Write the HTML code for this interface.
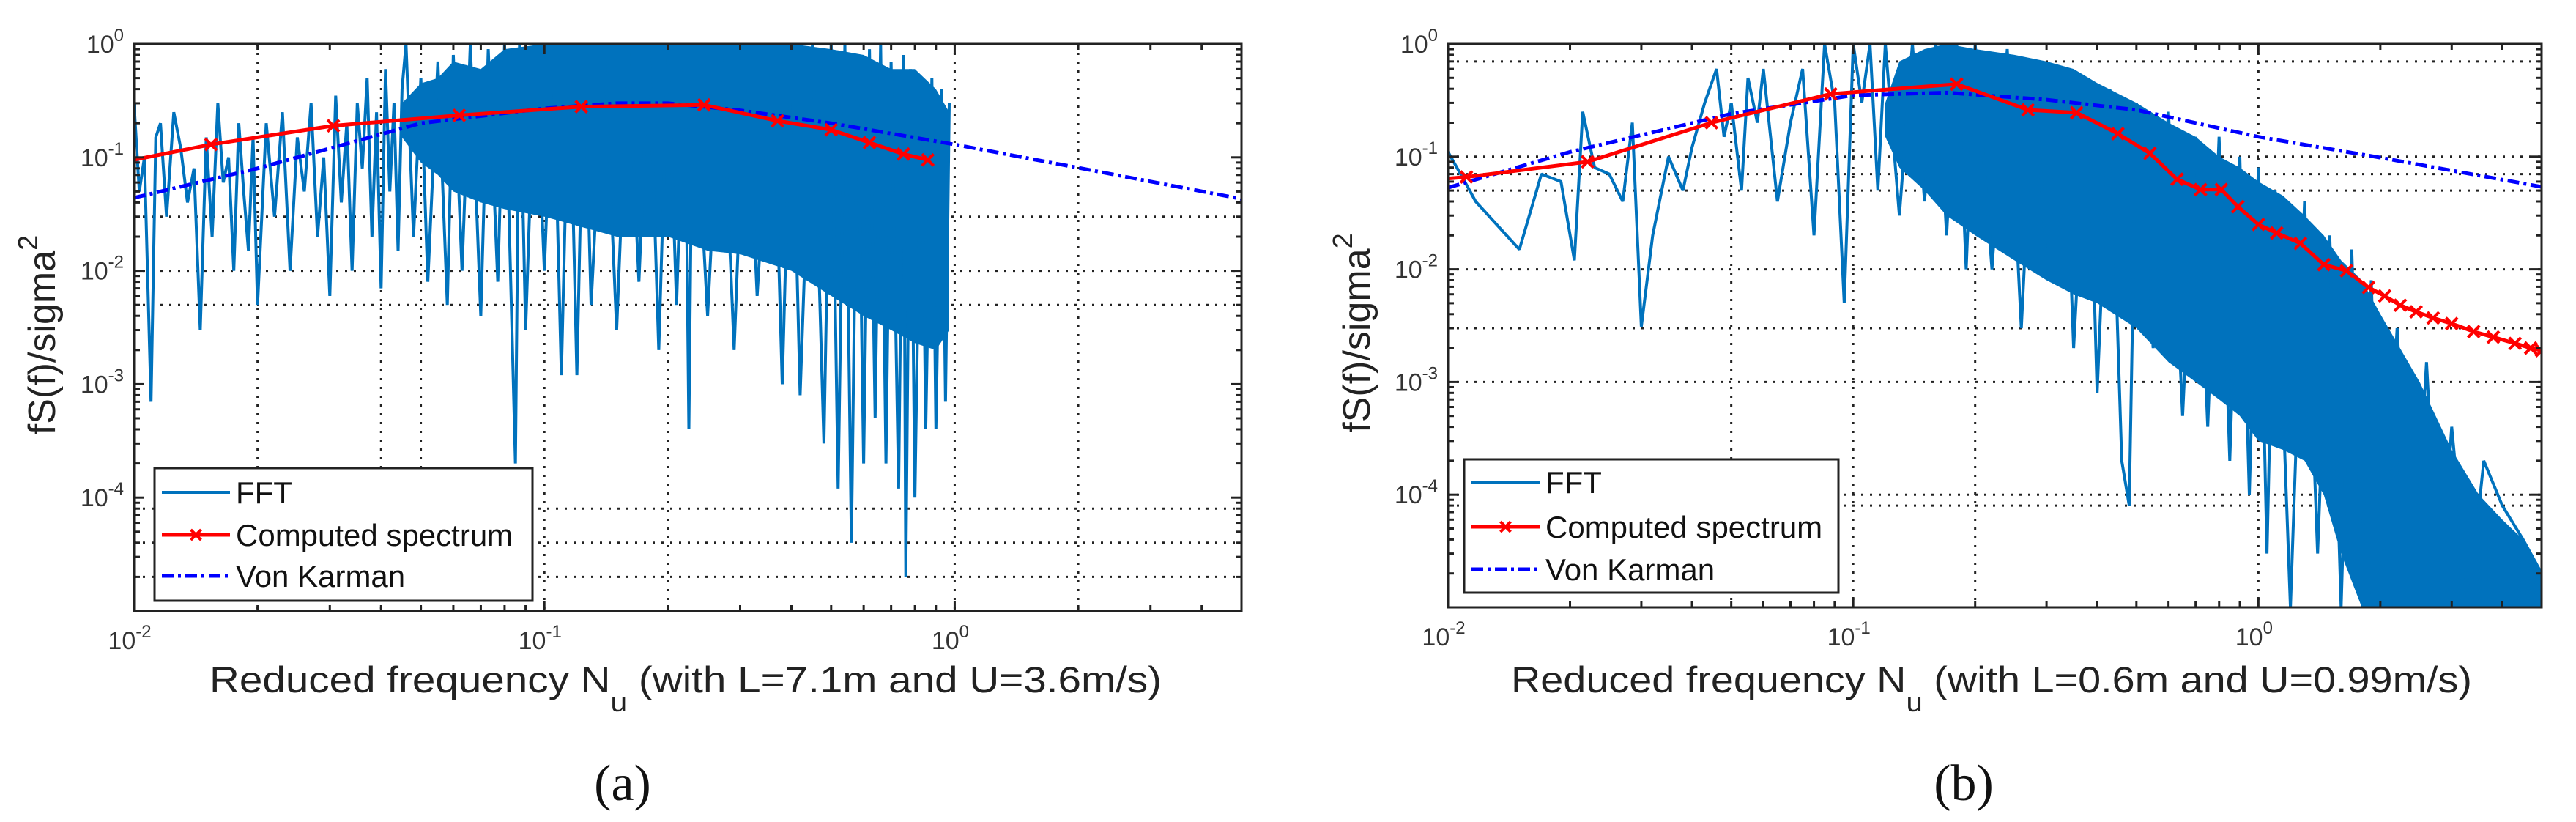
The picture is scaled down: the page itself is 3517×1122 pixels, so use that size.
<!DOCTYPE html>
<html><head><meta charset="utf-8"><style>
html,body{margin:0;padding:0;background:#fff;}
svg{display:block;}
text{font-family:"Liberation Sans",Arial,sans-serif;}
text.cap{font-family:"Liberation Serif",serif;}
</style></head><body>
<svg id="fig" width="3517" height="1122" viewBox="0 0 3517 1122" xmlns="http://www.w3.org/2000/svg">
<rect x="0" y="0" width="3517" height="1122" fill="#fff"/>
</svg>
<script>
// ---------- Panel (a) data ----------
const aFftFreq = [0.010,0.0103,0.0106,0.011,0.0113,0.0116,0.012,0.0125,0.013,0.0135,0.014,0.0145,0.015,0.0155,0.016,0.0165,0.017,0.0175,0.018,0.0185,0.019,0.0195,0.02,0.021,0.022,0.023,0.024,0.025,0.026,0.027,0.028,0.029,0.03,0.031,0.032,0.033,0.034,0.035,0.036,0.037,0.038,0.039,0.04,0.041,0.042,0.043,0.044,0.045,0.046,0.048,0.05,0.052,0.055,0.058,0.06,0.063,0.066,0.07,0.073,0.077,0.08,0.085,0.087,0.09,0.095,0.1,0.105,0.11,0.115,0.12,0.125,0.13,0.14,0.15,0.16,0.17,0.18,0.19,0.2,0.21,0.22,0.225,0.23,0.25,0.27,0.29,0.31,0.33,0.36,0.38,0.4,0.42,0.45,0.48,0.5,0.52,0.54,0.56,0.58,0.6,0.62,0.64,0.66,0.68,0.7,0.73,0.75,0.76,0.78,0.8,0.83,0.85,0.88,0.9,0.93,0.95,0.97];
const aFftVal = [0.3,0.05,0.1,0.0007,0.15,0.2,0.03,0.25,0.12,0.04,0.08,0.003,0.15,0.02,0.3,0.06,0.1,0.01,0.2,0.05,0.015,0.15,0.005,0.2,0.03,0.25,0.01,0.15,0.05,0.3,0.02,0.1,0.006,0.35,0.04,0.2,0.01,0.3,0.08,0.5,0.02,0.25,0.007,0.6,0.05,0.3,0.015,0.4,1,0.02,0.5,0.008,0.7,0.005,0.8,0.01,1,0.004,0.9,0.008,1,0.0002,1,0.003,1,0.01,1,0.0012,1,0.0012,1,0.005,1,0.003,1,0.008,1,0.002,1,0.005,1,0.0004,1,0.004,1,0.002,1,0.006,1,0.001,1,0.0008,1,0.0003,1,0.00012,1,0.00004,0.8,0.0002,0.9,0.0005,1,0.0002,0.7,0.00012,0.8,0.00002,0.6,0.0001,0.5,0.0004,0.5,0.0004,0.4,0.0007,0.3];
const aBandFreq = [0.045,0.05,0.055,0.06,0.07,0.08,0.1,0.12,0.15,0.2,0.25,0.3,0.4,0.5,0.6,0.7,0.8,0.9,0.97];
const aBandUpper = [0.3,0.45,0.5,0.7,0.6,0.9,1,1,1,1,1,1,1,0.9,0.8,0.6,0.6,0.4,0.25];
const aBandLower = [0.15,0.09,0.07,0.05,0.04,0.035,0.03,0.025,0.02,0.02,0.015,0.014,0.01,0.006,0.004,0.003,0.0023,0.002,0.003];
const aCompFreq = [0.01,0.0154,0.0306,0.062,0.123,0.245,0.37,0.5,0.62,0.75,0.86];
const aCompVal = [0.095,0.13,0.19,0.235,0.28,0.29,0.21,0.175,0.135,0.107,0.095];
const aVkFreq = [0.01,0.02,0.05,0.1,0.15,0.2,0.3,0.5,1,2,5];
const aVkVal = [0.044,0.08,0.2,0.27,0.3,0.3,0.26,0.2,0.13,0.081,0.043];
const aGridX = [0.02,0.04,0.05,0.1,0.2,1,2];
const aGridY = [0.03,0.01,0.005,0.00008,0.00004,0.00002];

// ---------- Panel (b) data ----------
const bFftFreq = [0.01,0.011,0.0117,0.015,0.017,0.019,0.0205,0.0215,0.023,0.025,0.027,0.0285,0.03,0.032,0.035,0.038,0.04,0.043,0.046,0.048,0.05,0.053,0.055,0.058,0.06,0.065,0.07,0.075,0.08,0.085,0.09,0.095,0.1,0.105,0.11,0.115,0.12,0.13,0.14,0.15,0.16,0.17,0.18,0.19,0.2,0.22,0.24,0.26,0.28,0.3,0.33,0.35,0.38,0.4,0.43,0.46,0.48,0.5,0.55,0.6,0.65,0.7,0.75,0.8,0.85,0.9,0.95,1,1.05,1.1,1.2,1.3,1.4,1.5,1.6,1.7,1.8,1.9,2,2.2,2.4,2.6,2.8,3,3.3,3.6,4,4.5,5];
const bFftVal = [0.11,0.06,0.04,0.015,0.07,0.06,0.012,0.25,0.08,0.07,0.04,0.2,0.0031,0.02,0.1,0.05,0.12,0.3,0.6,0.15,0.3,0.05,0.5,0.2,0.6,0.04,0.2,0.6,0.02,1,0.3,0.005,1,0.3,1,0.05,1,0.03,1,0.04,1,0.02,1,0.01,1,0.01,0.9,0.003,0.7,0.01,0.6,0.002,0.5,0.0008,0.4,0.0002,0.00008,0.3,0.002,0.25,0.0005,0.15,0.0004,0.15,0.0002,0.1,0.0001,0.08,0.00003,0.05,0.00001,0.04,0.00003,0.02,0.00001,0.015,0.00002,0.008,0.00001,0.003,0.00001,0.0015,0.00001,0.0004,0.00001,0.0002,0.00008,0.00004,0.00002];
const bBandFreq = [0.12,0.13,0.15,0.17,0.2,0.25,0.3,0.35,0.4,0.5,0.6,0.7,0.8,0.9,1,1.15,1.3,1.45,1.6,1.8,2,2.5,3,3.5,4,4.5,5];
const bBandUpper = [0.3,0.7,0.9,1,0.9,0.8,0.7,0.6,0.45,0.3,0.2,0.15,0.1,0.08,0.06,0.045,0.03,0.02,0.012,0.008,0.004,0.001,0.00025,0.0001,0.00006,0.00004,0.00002];
const bBandLower = [0.15,0.08,0.05,0.03,0.02,0.012,0.008,0.006,0.005,0.003,0.0015,0.001,0.0007,0.0005,0.0003,0.00025,0.0002,0.0001,0.00003,0.00001,0.00001,0.00001,0.00001,0.00001,0.00001,0.00001,0.00001];
const bCompFreq = [0.01,0.0111,0.0221,0.0447,0.088,0.18,0.27,0.356,0.45,0.54,0.63,0.72,0.81,0.89,1,1.11,1.27,1.45,1.65,1.87,2.05,2.24,2.45,2.7,3.0,3.4,3.8,4.3,4.7,5];
const bCompVal = [0.064,0.066,0.09,0.2,0.36,0.44,0.26,0.245,0.16,0.107,0.063,0.051,0.051,0.036,0.025,0.021,0.017,0.011,0.0097,0.0069,0.0058,0.0048,0.0042,0.0037,0.0033,0.0028,0.0025,0.0022,0.002,0.0019];
const bVkFreq = [0.01,0.02,0.05,0.1,0.17,0.3,0.5,1,2,5];
const bVkVal = [0.053,0.11,0.24,0.35,0.37,0.32,0.26,0.15,0.098,0.054];
const bGridX = [0.05,0.1,0.2,1];
const bGridY = [0.7,0.1,0.07,0.05,0.01,0.003,0.001,0.0001,0.00008];

const yTickVals = [1,0.1,0.01,0.001,0.0001];
const yTickExp = ["0","-1","-2","-3","-4"];
const xTickVals = [0.01,0.1,1];
const xTickExp = ["-2","-1","0"];

const NS = "http://www.w3.org/2000/svg";
const svg = document.getElementById('fig');
function mk(tag, attrs, parent){
  const e = document.createElementNS(NS, tag);
  for (const k in attrs) e.setAttribute(k, attrs[k]);
  (parent||svg).appendChild(e);
  return e;
}

function panel(p){
  const L=p.left, R=p.right, T=p.top, B=p.bottom;
  const xmin=Math.log10(0.01), xmax=Math.log10(5), ymin=-5, ymax=0;
  const X = v => L + (Math.log10(v)-xmin)/(xmax-xmin)*(R-L);
  const Y = v => T + (ymax-Math.log10(v))/(ymax-ymin)*(B-T);
  const g = mk('g',{});
  
  
  const clipId='clip-'+p.name;
  const defs=mk('defs',{},g);
  const cp=mk('clipPath',{id:clipId},defs);
  mk('rect',{x:L,y:T,width:R-L,height:B-T},cp);

  const grid = mk('g',{stroke:'#222','stroke-width':3,'stroke-dasharray':'3 9'},g);
  
  
  p.gridX.forEach(v=>{ mk('line',{x1:X(v),x2:X(v),y1:T,y2:B},grid); });
  p.gridY.forEach(v=>{ mk('line',{x1:L,x2:R,y1:Y(v),y2:Y(v)},grid); });

  const plot = mk('g',{'clip-path':'url(#'+clipId+')'},g);
  let d='';
  p.bandF.forEach((f,i)=>{ d+=(i?'L':'M')+X(f).toFixed(1)+','+Y(p.bandU[i]).toFixed(1); });
  for(let i=p.bandF.length-1;i>=0;i--) d+='L'+X(p.bandF[i]).toFixed(1)+','+Y(p.bandL[i]).toFixed(1);
  const band = mk('path',{d:d+'Z',fill:'#0072BD'},plot);
  
  
  d='';
  p.fftF.forEach((f,i)=>{ d+=(i?'L':'M')+X(f).toFixed(1)+','+Y(Math.max(p.fftV[i],1e-6)).toFixed(1); });
  const fft = mk('path',{d:d,fill:'none',stroke:'#0072BD','stroke-width':4,'stroke-linejoin':'bevel'},plot);
  
  
  d='';
  p.vkF.forEach((f,i)=>{ d+=(i?'L':'M')+X(f).toFixed(1)+','+Y(p.vkV[i]).toFixed(1); });
  const vk = mk('path',{d:d,fill:'none',stroke:'#0000FF','stroke-width':5,'stroke-dasharray':'16 6 4 6'},plot);
  
  
  d='';
  p.cF.forEach((f,i)=>{ d+=(i?'L':'M')+X(f).toFixed(1)+','+Y(p.cV[i]).toFixed(1); });
  const cs = mk('path',{d:d,fill:'none',stroke:'#FF0000','stroke-width':5},plot);
  
  
  p.cF.forEach((f,i)=>{
    if(i===0) return;
    const cx=X(f), cy=Y(p.cV[i]), s=8;
    const m = mk('path',{d:`M${cx-s},${cy-s}L${cx+s},${cy+s}M${cx-s},${cy+s}L${cx+s},${cy-s}`,stroke:'#FF0000','stroke-width':4},plot);
    
    
  });

  const box = mk('rect',{x:L,y:T,width:R-L,height:B-T,fill:'none',stroke:'#222','stroke-width':3},g);
  
  
  const tk = mk('g',{stroke:'#222','stroke-width':3},g);
  
  
  for(let e=-2;e<=0;e++) for(let k=1;k<10;k++){
    const v=k*Math.pow(10,e); if(v>5) break;
    const len=k===1?14:8;
    mk('line',{x1:X(v),x2:X(v),y1:B,y2:B-len},tk);
    mk('line',{x1:X(v),x2:X(v),y1:T,y2:T+len},tk);
  }
  for(let e=-5;e<0;e++) for(let k=1;k<10;k++){
    const v=k*Math.pow(10,e);
    const len=k===1?14:8;
    mk('line',{x1:L,x2:L+len,y1:Y(v),y2:Y(v)},tk);
    mk('line',{x1:R,x2:R-len,y1:Y(v),y2:Y(v)},tk);
  }
  yTickVals.forEach((v,i)=>{
    const t = mk('text',{x:L-14,y:Y(v)+12,'font-size':34,fill:'#333','text-anchor':'end'},g);
    
    
    const a=mk('tspan',{},t); a.textContent='10';
    const b=mk('tspan',{'font-size':24,dy:-16},t); b.textContent=yTickExp[i];
  });
  xTickVals.forEach((v,i)=>{
    const t = mk('text',{x:X(v)-6,y:B+52,'font-size':34,fill:'#333','text-anchor':'middle'},g);
    
    
    const a=mk('tspan',{},t); a.textContent='10';
    const b=mk('tspan',{'font-size':24,dy:-16},t); b.textContent=xTickExp[i];
  });
  const yt = mk('text',{x:0,y:0,'font-size':52,fill:'#222','text-anchor':'middle',transform:`translate(${p.ytx},${(T+B)/2+10}) rotate(-90)`},g);
  
  
  const y1=mk('tspan',{},yt); y1.textContent='fS(f)/sigma';
  const y2=mk('tspan',{'font-size':38,dy:-24},yt); y2.textContent='2';
  const xt = mk('text',{x:p.xtx,y:945,'font-size':50,fill:'#222',textLength:p.xtw,lengthAdjust:'spacingAndGlyphs'},g);
  
  
  const x1=mk('tspan',{},xt); x1.textContent='Reduced frequency N';
  const x2=mk('tspan',{'font-size':36,dy:26},xt); x2.textContent='u';
  const x3=mk('tspan',{dy:-26},xt); x3.textContent='  '+p.xlabel;
  const lg = mk('g',{},g);
  
  
  mk('rect',{x:p.lx,y:p.ly,width:p.lw,height:p.lh,fill:'#fff',stroke:'#222','stroke-width':3},lg);
  const names=['FFT','Computed spectrum','Von Karman'];
  const rowNames=['legend-entry-fft','legend-entry-computed','legend-entry-von-karman'];
  names.forEach((n,i)=>{
    const yy=p.ly+p.rows[i];
    const row=mk('g',{},lg);
    
    
    const x0=p.lx+10, x1e=p.lx+103;
    if(i===0) mk('line',{x1:x0,x2:x1e,y1:yy,y2:yy,stroke:'#0072BD','stroke-width':4},row);
    if(i===1){ mk('line',{x1:x0,x2:x1e,y1:yy,y2:yy,stroke:'#FF0000','stroke-width':5},row);
      const cx=(x0+x1e)/2; mk('path',{d:`M${cx-7},${yy-7}L${cx+7},${yy+7}M${cx-7},${yy+7}L${cx+7},${yy-7}`,stroke:'#FF0000','stroke-width':4},row);}
    if(i===2) mk('line',{x1:x0,x2:x1e,y1:yy,y2:yy,stroke:'#0000FF','stroke-width':5,'stroke-dasharray':'16 6 4 6'},row);
    const t=mk('text',{x:p.lx+111,y:yy+15,'font-size':42,fill:'#111'},row);
    t.textContent=n;
  });
  const cap = mk('text',{x:p.capx,y:1092,'font-size':70,fill:'#111','text-anchor':'middle','class':'cap'},g);
  
  
  cap.textContent=p.caption;
}

panel({name:'panel-a',left:183,right:1695,top:60,bottom:834,
  fftF:aFftFreq,fftV:aFftVal,bandF:aBandFreq,bandU:aBandUpper,bandL:aBandLower,
  cF:aCompFreq,cV:aCompVal,vkF:aVkFreq,vkV:aVkVal,gridX:aGridX,gridY:aGridY,
  ytx:75,xtx:286,xtw:1300,xlabel:'(with L=7.1m and U=3.6m/s)',
  lx:211,ly:639,lw:516,lh:181,rows:[33,91,147],capx:850,caption:'(a)'});
panel({name:'panel-b',left:1977,right:3470,top:60,bottom:829,
  fftF:bFftFreq,fftV:bFftVal,bandF:bBandFreq,bandU:bBandUpper,bandL:bBandLower,
  cF:bCompFreq,cV:bCompVal,vkF:bVkFreq,vkV:bVkVal,gridX:bGridX,gridY:bGridY,
  ytx:1870,xtx:2063,xtw:1312,xlabel:'(with L=0.6m and U=0.99m/s)',
  lx:1999,ly:627,lw:511,lh:182,rows:[31,92,150],capx:2681,caption:'(b)'});
</script>
</body></html>
